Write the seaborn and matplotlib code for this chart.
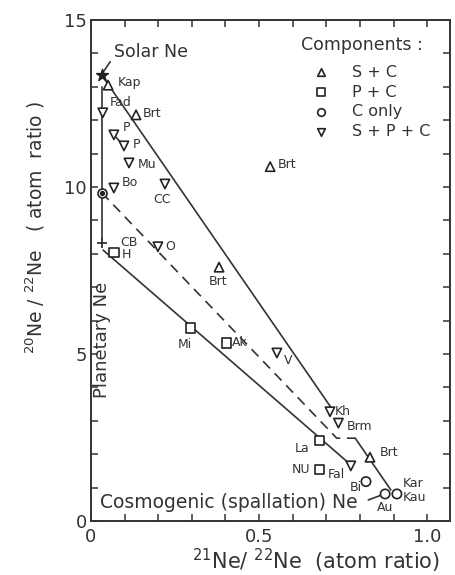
import numpy as np
import pandas as pd
import matplotlib
matplotlib.use("Agg")
import matplotlib.pyplot as plt
import seaborn as sns

# ---------------- data ----------------
sc_names = ["Kap", "Brt", "Brt", "Brt", "Brt"]
sc_x = [0.051, 0.134, 0.533, 0.381, 0.830]
sc_y = [13.05, 12.16, 10.61, 7.60, 1.91]

spc_names = ["Fad", "P", "P", "Mu", "Bo", "CC", "O", "V", "Kh", "Brm", "Fal"]
spc_x = [0.035, 0.068, 0.098, 0.113, 0.068, 0.220, 0.199, 0.553, 0.711, 0.736, 0.773]
spc_y = [12.22, 11.56, 11.23, 10.72, 9.97, 10.09, 8.21, 5.03, 3.27, 2.93, 1.65]

pc_names = ["H", "Mi", "Ak", "La", "NU"]
pc_x = [0.068, 0.295, 0.404, 0.680, 0.680]
pc_y = [8.03, 5.78, 5.33, 2.41, 1.55]

c_names = ["Bi", "Au", "Kau"]
c_x = [0.818, 0.875, 0.910]
c_y = [1.18, 0.81, 0.81]

solar_xy = (0.032, 13.35)
planetary_xy = (0.032, 8.32)
cend_xy = (0.032, 9.83)

# mixing lines
upper_line_x = [0.032, 0.716]
upper_line_y = [13.35, 3.37]
upper2_line_x = [0.786, 0.892]
upper2_line_y = [2.48, 0.93]
dashed_line_x = [0.032, 0.731, 0.786]
dashed_line_y = [9.83, 2.48, 2.48]
lower_line_x = [0.036, 0.765]
lower_line_y = [8.11, 1.75]
vert_line_x = [0.032, 0.032]
vert_line_y = [13.0, 8.45]
pp_line_x = [0.068, 0.098]
pp_line_y = [11.56, 11.23]
solar_ptr_x = [0.057, 0.037]
solar_ptr_y = [13.75, 13.45]
cosmo_ptr_x = [0.825, 0.865]
cosmo_ptr_y = [0.63, 0.78]

comp_labels = ["S + C", "P + C", "C only", "S + P + C"]

# ---------------- layout ----------------
df = pd.DataFrame({
    "x": sc_x + pc_x + c_x + spc_x,
    "y": sc_y + pc_y + c_y + spc_y,
    "name": sc_names + pc_names + c_names + spc_names,
    "comp": ["S + C"] * len(sc_x) + ["P + C"] * len(pc_x) + ["C only"] * len(c_x)
            + ["S + P + C"] * len(spc_x),
})
marker_map = {"S + C": "^", "P + C": "s", "C only": "o", "S + P + C": "v"}

# label offsets (pixels): (dx, dy_up, ha) in df order
label_layout = [
    (10, 3, "left"), (7, 1, "left"), (8, 2, "left"), (-1, -14, "center"), (10, 5, "left"),  # S+C
    (8, -2, "left"), (-5, -17, "center"), (5, 0, "left"), (-10, -8, "right"), (-9, 0, "right"),  # P+C
    (-4, -6, "right"), (0, -14, "center"), (6, -4, "left"),  # C only
    (7, 10, "left"), (9, 7, "left"), (9, 1, "left"), (9, -2, "left"), (8, 6, "left"),
    (-3, -16, "center"), (7, 0, "left"), (7, -8, "left"), (5, 0, "left"), (8, -3, "left"),
    (-6, -9, "right"),  # S+P+C
]

sns.set_style("ticks")
plt.rcParams["font.family"] = ["DejaVu Sans"]
plt.rcParams["mathtext.fontset"] = "dejavusans"

fig = plt.figure(figsize=(4.56, 5.75), dpi=100)
ax = fig.add_axes([91 / 456, 1 - 521 / 575, (450 - 91) / 456, (521 - 20) / 575])

lk = dict(color="#333333", lw=1.2)
ax.plot(upper_line_x, upper_line_y, **lk)
ax.plot(upper2_line_x, upper2_line_y, **lk)
ax.plot(lower_line_x, lower_line_y, **lk)
ax.plot(vert_line_x, vert_line_y, **lk)
ax.plot(pp_line_x, pp_line_y, **lk)
ax.plot(solar_ptr_x, solar_ptr_y, **lk)
ax.plot(cosmo_ptr_x, cosmo_ptr_y, **lk)
ax.plot(dashed_line_x, dashed_line_y, color="#333333", lw=1.2, dashes=(6, 4))

sns.scatterplot(data=df, x="x", y="y", style="comp", markers=marker_map,
                color="white", edgecolor="#222222", linewidth=1.2, s=45,
                legend=False, ax=ax, zorder=3)

ax.scatter([solar_xy[0]], [solar_xy[1]], marker="*", s=80, color="#222222", zorder=4)
ax.scatter([planetary_xy[0]], [planetary_xy[1]], marker="+", s=45, color="#222222",
           linewidths=1.2, zorder=4)
ax.scatter([cend_xy[0]], [cend_xy[1]], marker="o", s=42, color="white",
           edgecolor="#222222", linewidths=1.2, zorder=4)
ax.scatter([cend_xy[0]], [cend_xy[1]], marker="o", s=8, color="#222222", zorder=5)

lab_fs = 9
for (xv, yv, nm), (dx, dy, ha) in zip(df[["x", "y", "name"]].values, label_layout):
    ax.annotate(nm, (xv, yv), xytext=(dx, dy), textcoords="offset pixels",
                ha=ha, va="center", fontsize=lab_fs, color="#333333")
# extra labels
h_row = df[df["name"] == "H"].iloc[0]
ax.annotate("CB", (h_row.x, h_row.y), xytext=(6, 10), textcoords="offset pixels",
            ha="left", va="center", fontsize=lab_fs, color="#333333")
k_row = df[df["name"] == "Kau"].iloc[0]
ax.annotate("Kar", (k_row.x, k_row.y), xytext=(6, 10), textcoords="offset pixels",
            ha="left", va="center", fontsize=lab_fs, color="#333333")

# endmember labels
ax.annotate("Solar Ne", solar_xy, xytext=(12, 23), textcoords="offset pixels",
            ha="left", va="center", fontsize=12.5, color="#333333")
ax.text(0.034, 5.42, "Planetary Ne", rotation=90, ha="center", va="center",
        fontsize=13, color="#333333")
ax.text(0.027, 0.55, "Cosmogenic (spallation) Ne", ha="left", va="center",
        fontsize=13.5, color="#333333")

# legend (manual)
ax.text(0.626, 14.25, "Components :", ha="left", va="center", fontsize=12.5, color="#333333")
leg_y = [13.44, 12.84, 12.25, 11.65]
for lab, yy in zip(comp_labels, leg_y):
    ax.scatter([0.685], [yy], marker=marker_map[lab], s=30, color="white",
               edgecolor="#222222", linewidths=1.2, zorder=4)
    ax.text(0.775, yy, lab, ha="left", va="center", fontsize=11.5, color="#333333")

# axes styling
ax.set_xlim(0, 1.068)
ax.set_ylim(0, 15)
ax.set_xticks([0, 0.5, 1.0])
ax.set_xticklabels(["0", "0.5", "1.0"])
ax.set_xticks(np.arange(0, 1.05, 0.1), minor=True)
ax.set_yticks([0, 5, 10, 15])
ax.set_yticklabels(["0", "5", "10", "15"])
ax.set_yticks(np.arange(0, 15.5, 1), minor=True)
ax.tick_params(which="both", direction="in", top=True, right=True, length=5,
               width=1.1, color="#333333", labelsize=13, labelcolor="#333333")
ax.tick_params(axis="x", which="major", pad=5)
ax.tick_params(axis="y", which="major", pad=3)
for sp in ax.spines.values():
    sp.set_linewidth(1.4)
    sp.set_color("#333333")
    sp.set_visible(True)
ax.set_xlabel("")
ax.set_ylabel("")

fig.text(35 / 456, 1 - 228 / 575, r"$^{20}$Ne / $^{22}$Ne   ( atom  ratio )",
         rotation=90, ha="center", va="center", fontsize=13.5, color="#333333")
fig.text(316 / 456, 1 - 561 / 575, r"$^{21}$Ne/ $^{22}$Ne  (atom ratio)",
         ha="center", va="center", fontsize=15, color="#333333")

fig.savefig("out.png", dpi=100)
